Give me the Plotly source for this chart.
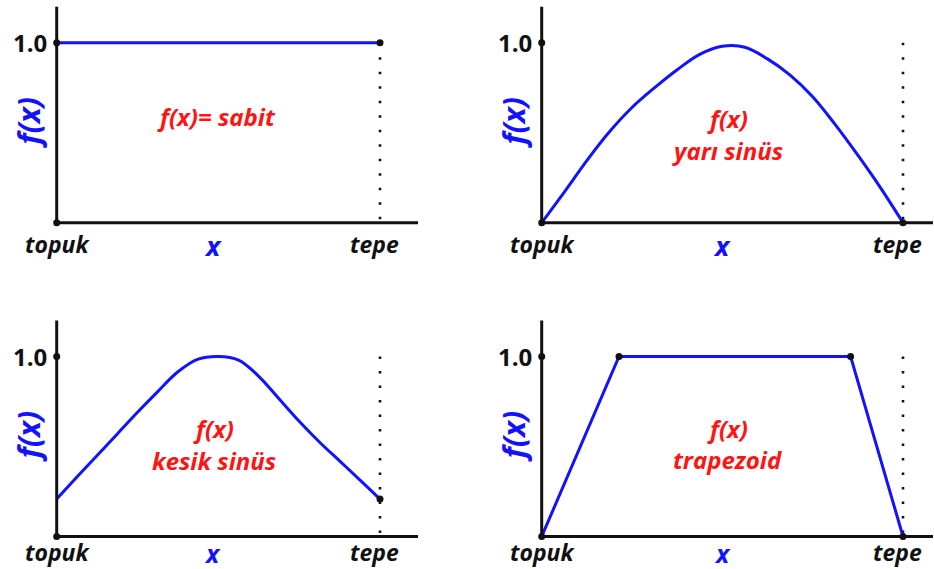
import plotly.graph_objects as go

# ---- data (x normalised: topuk = 0, tepe = 1) ----
x_sabit = [0.0, 1.0]
y_sabit = [1.0, 1.0]

x_yari = [0.0, 0.0625, 0.125, 0.1875, 0.25, 0.3125, 0.375, 0.4375, 0.5, 0.5625,
          0.625, 0.6875, 0.75, 0.8125, 0.875, 0.9375, 1.0]
y_yari = [0.0, 0.17, 0.345, 0.505, 0.64, 0.75, 0.85, 0.935, 0.98, 0.975,
          0.91, 0.82, 0.70, 0.545, 0.375, 0.195, 0.0]

x_kesik = [0.0, 0.0625, 0.125, 0.1875, 0.25, 0.3125, 0.375, 0.4375, 0.5, 0.5625,
           0.625, 0.6875, 0.75, 0.8125, 0.875, 0.9375, 1.0]
y_kesik = [0.208, 0.33, 0.45, 0.57, 0.69, 0.805, 0.915, 0.985, 1.0, 0.98,
           0.89, 0.765, 0.64, 0.525, 0.42, 0.315, 0.208]

x_trap = [0.0, 0.214, 0.855, 1.0]
y_trap = [0.0, 1.0, 1.0, 0.0]

x_tick_labels = ["topuk", "tepe"]
y_tick_label = "1.0"
x_title = "x"
y_title = "f(x)"
panel_texts = [["f(x)= sabit"], ["f(x)", "yarı sinüs"], ["f(x)", "kesik sinüs"], ["f(x)", "trapezoid"]]

BLUE = "#1212ff"
RED = "#ff1414"
BLACK = "#111111"
FONT = "Open Sans"

W, H = 934, 569

# panel geometry (pixels): axis origin x, x-axis right end, tepe pixel, x-axis y pixel, 1.0 pixel
panels = [
    dict(x0=56.7, xend=418, xt=380, yb=222.7, y1=42.7, tick_dy=-3, title_dy=-2, title_size=27),
    dict(x0=541.7, xend=933, xt=903, yb=222.7, y1=42.7, tick_dy=-3, title_dy=-2, title_size=27),
    dict(x0=56.7, xend=418, xt=380, yb=536.5, y1=356.5, tick_dy=3, title_dy=3, title_size=25),
    dict(x0=541.7, xend=933, xt=903, yb=536.5, y1=356.5, tick_dy=3, title_dy=3, title_size=25),
]

series = [(x_sabit, y_sabit), (x_yari, y_yari), (x_kesik, y_kesik), (x_trap, y_trap)]
shapes_line = ["linear", "spline", "spline", "linear"]

# extra black dots per panel (points on the curves / axes)
dot_sets = [
    ([0, 0, 1], [0, 1, 1]),
    ([0, 0, 1], [0, 1, 0]),
    ([0, 0, 1], [0, 1, y_kesik[-1]]),
    ([0, 0, x_trap[1], x_trap[2], 1], [0, 1, 1, 1, 0]),
]

text_x = [0.493, 0.513, 0.485, 0.514]
text_y = [[0.589], [0.579, 0.402], [0.60, 0.423], [0.60, 0.43]]
xlab_pos = [0.482, 0.5, 0.482, 0.5]

fig = go.Figure()
layout = dict(
    width=W, height=H, margin=dict(l=0, r=0, t=0, b=0),
    paper_bgcolor="white", plot_bgcolor="white", showlegend=False,
)
annotations = []
shapes = []

YMAX = 1.2
for i, p in enumerate(panels):
    n = "" if i == 0 else str(i + 1)
    xa, ya = "x" + n, "y" + n
    unit = p["xt"] - p["x0"]
    xmax = (p["xend"] - p["x0"]) / unit
    yunit = p["yb"] - p["y1"]
    ytop_px = p["yb"] - YMAX * yunit
    layout["xaxis" + n] = dict(
        domain=[p["x0"] / W, p["xend"] / W], range=[0, xmax], anchor=ya,
        showgrid=False, zeroline=False, showticklabels=False, ticks="", fixedrange=True,
    )
    layout["yaxis" + n] = dict(
        domain=[(H - p["yb"]) / H, (H - ytop_px) / H], range=[0, YMAX], anchor=xa,
        showgrid=False, zeroline=False, showticklabels=False, ticks="", fixedrange=True,
    )
    # axes lines
    shapes.append(dict(type="line", xref=xa + " domain", yref=ya + " domain",
                       x0=0, x1=1, y0=0, y1=0, line=dict(color=BLACK, width=3), layer="above"))
    shapes.append(dict(type="line", xref=xa + " domain", yref=ya + " domain",
                       x0=0, x1=0, y0=0, y1=1, line=dict(color=BLACK, width=3), layer="above"))
    # dotted line at tepe
    fig.add_trace(go.Scatter(x=[1, 1], y=[1, 0], mode="lines", xaxis=xa, yaxis=ya,
                             line=dict(color=BLACK, width=2.6, dash="2.6px,11.9px"), hoverinfo="skip"))
    # curve
    xs, ys = series[i]
    fig.add_trace(go.Scatter(x=xs, y=ys, mode="lines", xaxis=xa, yaxis=ya,
                             line=dict(color=BLUE, width=3, shape=shapes_line[i], smoothing=1.0)))
    # dots
    dx, dy = dot_sets[i]
    fig.add_trace(go.Scatter(x=dx, y=dy, mode="markers", xaxis=xa, yaxis=ya, cliponaxis=False,
                             marker=dict(color=BLACK, size=7)))

    # labels
    annotations.append(dict(text=y_tick_label, x=0, y=1, xref=xa, yref=ya, showarrow=False,
                            xanchor="right", yanchor="middle", xshift=-8,
                            font=dict(family=FONT, size=24, color=BLACK, weight="bold")))
    annotations.append(dict(text="<i>%s</i>" % x_tick_labels[0], x=0, y=0, xref=xa, yref=ya,
                            showarrow=False, xanchor="center", yanchor="top", yshift=p["tick_dy"], xshift=1,
                            font=dict(family=FONT, size=23, color=BLACK, weight="bold")))
    annotations.append(dict(text="<i>%s</i>" % x_tick_labels[1], x=1, y=0, xref=xa, yref=ya,
                            showarrow=False, xanchor="center", yanchor="top", yshift=p["tick_dy"], xshift=-6,
                            font=dict(family=FONT, size=23, color=BLACK, weight="bold")))
    annotations.append(dict(text="<i>%s</i>" % x_title, x=xlab_pos[i], y=0, xref=xa, yref=ya,
                            showarrow=False, xanchor="center", yanchor="top", yshift=p["title_dy"],
                            font=dict(family=FONT, size=p["title_size"], color=BLUE, weight="bold")))
    annotations.append(dict(text="<i>%s</i>" % y_title, x=0, y=0.555, xref=xa, yref=ya,
                            showarrow=False, xanchor="center", yanchor="middle", xshift=-28,
                            textangle=-90,
                            font=dict(family=FONT, size=30, color=BLUE, weight="bold")))
    for j, t in enumerate(panel_texts[i]):
        annotations.append(dict(text="<i>%s</i>" % t, x=text_x[i], y=text_y[i][j], xref=xa, yref=ya,
                                showarrow=False, xanchor="center", yanchor="middle",
                                font=dict(family=FONT, size=24, color=RED, weight="bold")))

layout["annotations"] = annotations
layout["shapes"] = shapes
fig.update_layout(**layout)
fig.write_html("out.html", config={"displayModeBar": False},
               post_script="document.body.style.margin='0px';")
